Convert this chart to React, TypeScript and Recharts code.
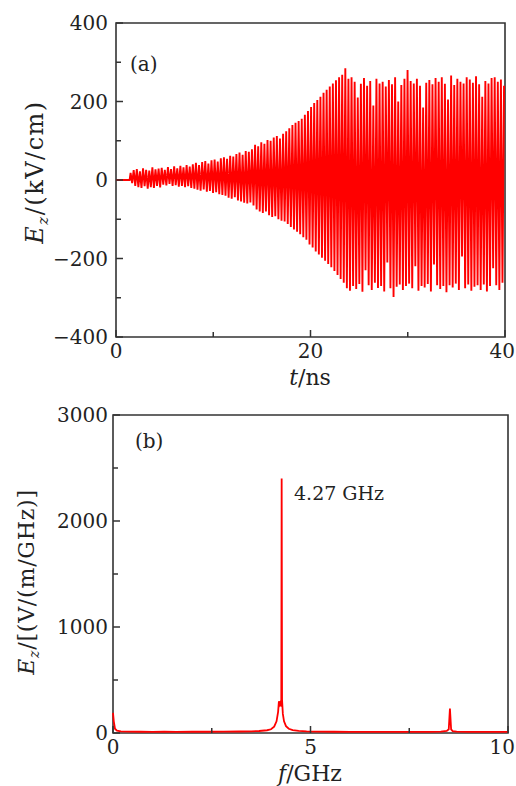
import { LineChart, Line, XAxis, YAxis, ReferenceArea } from "recharts";

// (a) time-domain field, one value per half cycle (peak, trough, peak, ...)
const timeLead = [0, 1.4];
const ezLead = [0, 0];
const tStart = 1.5; // ns
const tHalfPeriod = 0.16; // ns
const ezHalfCycles = [
  18, -8, 25, -15, 28, -18, 22, -20, 30, -16, 26, -22, 24, -18, 32, -20, 27, -15, 29, -19,
  31, -12, 26, -14, 33, -10, 28, -15, 35, -13, 30, -17, 36, -15, 32, -18, 38, -16, 34, -20,
  40, -22, 44, -25, 38, -27, 46, -24, 48, -30, 42, -28, 50, -33, 52, -31, 47, -36, 55, -38,
  58, -40, 54, -45, 62, -48, 60, -44, 66, -52, 70, -55, 64, -58, 74, -60, 72, -57, 78, -65,
  90, -75, 86, -80, 96, -84, 92, -80, 102, -90, 100, -94, 108, -92, 112, -100, 106, -104, 118, -106,
  124, -112, 132, -120, 140, -126, 146, -132, 150, -138, 156, -146, 166, -152, 176, -164, 186, -172, 196, -182,
  204, -190, 212, -198, 222, -206, 230, -214, 238, -222, 246, -232, 254, -242, 262, -252, 268, -262, 285, -276,
  258, -282, 262, -270, 250, -278, 210, -265, 245, -285, 260, -230, 240, -268, 252, -280, 190, -262, 258, -275,
  246, -270, 250, -284, 238, -210, 255, -276, 244, -298, 262, -272, 200, -266, 242, -280, 258, -270, 280, -264,
  252, -276, 246, -220, 258, -282, 240, -270, 185, -274, 248, -265, 255, -284, 244, -215, 260, -268, 250, -278,
  262, -270, 245, -286, 205, -268, 266, -274, 242, -264, 258, -280, 250, -195, 246, -276, 262, -266, 256, -282,
  248, -272, 264, -268, 244, -280, 212, -266, 252, -284, 246, -270, 260, -225, 262, -268, 250, -280, 256, -262,
  240,
];
const tTicks = [0, 10, 20, 30, 40];
const tLabelled = [0, 20, 40];
const ezTicks = [-400, -300, -200, -100, 0, 100, 200, 300, 400];
const ezLabelled = [-400, -200, 0, 200, 400];

// (b) spectrum
const freqGHz = [
  0, 0.02, 0.05, 0.1, 0.2, 0.4, 0.7, 1.0, 1.3, 1.6, 2.0, 2.4, 2.8, 3.2, 3.5, 3.7, 3.9, 4.0,
  4.08, 4.14, 4.18, 4.2, 4.22, 4.24, 4.26, 4.27, 4.28, 4.3, 4.33, 4.38, 4.45, 4.55, 4.7, 4.9,
  5.2, 5.6, 6.0, 6.5, 7.0, 7.5, 8.0, 8.3, 8.45, 8.5, 8.53, 8.56, 8.6, 8.7, 9.0, 9.5, 10,
];
const spectrumAmp = [
  190, 110, 40, 22, 16, 13, 12, 11, 12, 11, 12, 12, 13, 14, 16, 19, 26, 35,
  60, 110, 200, 300, 270, 290, 250, 2400, 310, 180, 110, 65, 40, 28, 20, 15,
  13, 12, 11, 11, 11, 10, 11, 13, 20, 35, 230, 35, 18, 13, 11, 10, 10,
];
const fTicks = [0, 2.5, 5, 7.5, 10];
const fLabelled = [0, 5, 10];
const ampTicks = [0, 500, 1000, 1500, 2000, 2500, 3000];
const ampLabelled = [0, 1000, 2000, 3000];

const timeData = [
  ...timeLead.map((t, i) => ({ t, ez: ezLead[i] })),
  ...ezHalfCycles.map((ez, i) => ({ t: tStart + i * tHalfPeriod, ez })),
];
const spectrumData = freqGHz.map((f, i) => ({ f, amp: spectrumAmp[i] }));

const FONT = "DejaVu Serif";
const INK = "#222";
const AXIS = "#333";

const fmt = (v: number) => (v < 0 ? `\u2212${Math.abs(v)}` : `${v}`);

const makeYTick = (labelled: number[], gap: number) => (props: any) => {
  const { x, y, payload } = props;
  const major = labelled.includes(payload.value);
  return (
    <g>
      <line x1={x} x2={x + (major ? 7 : 5)} y1={y} y2={y} stroke={AXIS} strokeWidth={1.5} />
      {major && (
        <text x={x - gap} y={y} dy="0.36em" textAnchor="end" fontFamily={FONT} fontSize={20} fill={INK}>
          {fmt(payload.value)}
        </text>
      )}
    </g>
  );
};

const makeXTick = (labelled: number[]) => (props: any) => {
  const { x, y, payload } = props;
  const major = labelled.includes(payload.value);
  const nearEdge = x > 495;
  return (
    <g>
      <line x1={x} x2={x} y1={y} y2={y - (major ? 7 : 5)} stroke={AXIS} strokeWidth={1.5} />
      {major && (
        <text
          x={nearEdge ? 515 : x}
          y={y + 21}
          textAnchor={nearEdge ? "end" : "middle"}
          fontFamily={FONT}
          fontSize={20}
          fill={INK}
        >
          {fmt(payload.value)}
        </text>
      )}
    </g>
  );
};

const App = () => {
  return (
    <div style={{ position: "absolute", left: 0, top: 0, width: 516, height: 786, background: "#fff" }}>
      <div style={{ position: "absolute", left: 0, top: 0 }}>
        <LineChart width={516} height={390} data={timeData} margin={{ top: 23, right: 11, bottom: 23, left: 40 }}>
          <XAxis
            dataKey="t"
            type="number"
            domain={[0, 40]}
            ticks={tTicks}
            height={30}
            axisLine={false}
            tickLine={false}
            tickSize={0}
            tickMargin={0}
            tick={makeXTick(tLabelled)}
          />
          <YAxis
            type="number"
            domain={[-400, 400]}
            ticks={ezTicks}
            width={76}
            axisLine={false}
            tickLine={false}
            tickSize={0}
            tickMargin={0}
            tick={makeYTick(ezLabelled, 8)}
          />
          <Line
            type="linear"
            dataKey="ez"
            stroke="#ff0000"
            strokeWidth={1.9}
            dot={false}
            isAnimationActive={false}
          />
          <ReferenceArea x1={0} x2={40} y1={-400} y2={400} fill="none" fillOpacity={0} stroke={AXIS} strokeWidth={1.6} ifOverflow="visible" />
          <text x={130} y={71} fontFamily={FONT} fontSize={20} fill={INK}>(a)</text>
          <text x={310} y={385} textAnchor="middle" fontFamily={FONT} fontSize={22} fill={INK}>
            <tspan fontStyle="italic">t</tspan>/ns
          </text>
          <text x={43} y={172} transform="rotate(-90 43 172)" textAnchor="middle" fontFamily={FONT} fontSize={24} letterSpacing={1.5} fill={INK}>
            <tspan fontStyle="italic">E</tspan>
            <tspan fontStyle="italic" fontSize={15} dy={5}>z</tspan>
            <tspan dy={-5}>/(kV/cm)</tspan>
          </text>
        </LineChart>
      </div>
      <div style={{ position: "absolute", left: 0, top: 390 }}>
        <LineChart width={516} height={396} data={spectrumData} margin={{ top: 25, right: 8, bottom: 23, left: 40 }}>
          <XAxis
            dataKey="f"
            type="number"
            domain={[0, 10]}
            ticks={fTicks}
            height={30}
            axisLine={false}
            tickLine={false}
            tickSize={0}
            tickMargin={0}
            tick={makeXTick(fLabelled)}
          />
          <YAxis
            type="number"
            domain={[0, 3000]}
            ticks={ampTicks}
            width={73}
            axisLine={false}
            tickLine={false}
            tickSize={0}
            tickMargin={0}
            tick={makeYTick(ampLabelled, 5)}
          />
          <Line
            type="linear"
            dataKey="amp"
            stroke="#ff0000"
            strokeWidth={1.8}
            dot={false}
            isAnimationActive={false}
          />
          <ReferenceArea x1={0} x2={10} y1={0} y2={3000} fill="none" fillOpacity={0} stroke={AXIS} strokeWidth={1.6} ifOverflow="visible" />
          <text x={135} y={58} fontFamily={FONT} fontSize={20} fill={INK}>(b)</text>
          <text x={294} y={110} fontFamily={FONT} fontSize={19} fill={INK}>4.27 GHz</text>
          <text x={310} y={391} textAnchor="middle" fontFamily={FONT} fontSize={22} fill={INK}>
            <tspan fontStyle="italic">f</tspan>/GHz
          </text>
          <text x={34} y={192} transform="rotate(-90 34 192)" textAnchor="middle" fontFamily={FONT} fontSize={22} letterSpacing={0.8} fill={INK}>
            <tspan fontStyle="italic">E</tspan>
            <tspan fontStyle="italic" fontSize={14} dy={5}>z</tspan>
            <tspan dy={-5}>/[(V/(m/GHz)]</tspan>
          </text>
        </LineChart>
      </div>
    </div>
  );
};

export default App;
